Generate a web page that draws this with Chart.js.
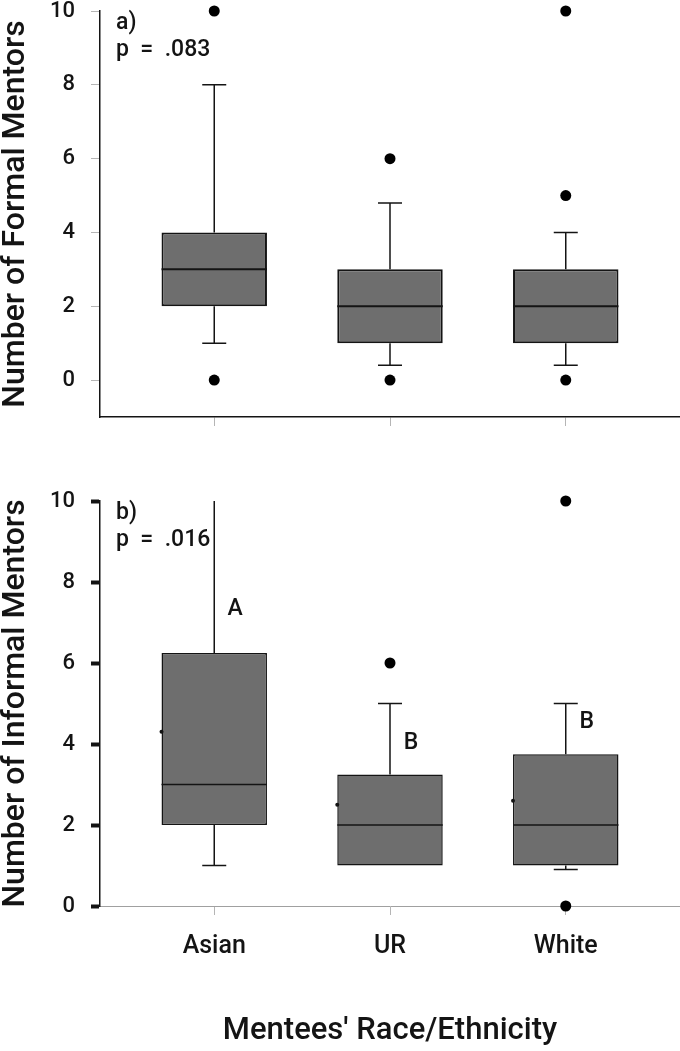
<!DOCTYPE html>
<html>
<head>
<meta charset="utf-8">
<script src="https://cdn.jsdelivr.net/npm/chart.js@4.4.1/dist/chart.umd.min.js"></script>
<style>
  html, body { margin: 0; padding: 0; background: #fff; }
  .panel { position: absolute; left: 0; width: 680px; }
</style>
</head>
<body>
<div class="panel" style="top:0;height:440px"><canvas id="formal" width="680" height="440"></canvas></div>
<div class="panel" style="top:440px;height:611px"><canvas id="informal" width="680" height="611"></canvas></div>
<script>
const groups = ['Asian', 'UR', 'White'];
const yTicks = [0, 2, 4, 6, 8, 10];

// a) formal mentors
const formalQ1 = [2, 1, 1];
const formalMedian = [3, 2, 2];
const formalQ3 = [4, 3, 3];
const formalLow = [1, 0.4, 0.4];
const formalHigh = [8, 4.8, 4];
const formalOutliers = [[0, 10], [0, 6], [0, 5, 10]];

// b) informal mentors
const informalQ1 = [2, 1, 1];
const informalMedian = [3, 2, 2];
const informalQ3 = [6.25, 3.25, 3.75];
const informalLow = [1, 1, 0.9];
const informalHigh = [10, 5, 5];
const informalMean = [4.3, 2.5, 2.6];
const informalOutliers = [[], [6], [0, 10]];
const informalLetters = ['A', 'B', 'B'];
const informalLetterAt = [7.33, 4.03, 4.53];

const FONT = 'Roboto, "DejaVu Sans Condensed", sans-serif';
const INK = '#141414';

const boxExtras = {
  id: 'boxExtras',
  beforeDatasetsDraw(chart, args, o) {
    const ctx = chart.ctx, xs = chart.scales.x, ys = chart.scales.y;
    ctx.save();
    ctx.strokeStyle = INK;
    ctx.lineWidth = 1.5;
    o.q1.forEach((q1, i) => {
      const x = xs.getPixelForValue(i + 1);
      const yq1 = ys.getPixelForValue(q1), yq3 = ys.getPixelForValue(o.q3[i]);
      const ylo = ys.getPixelForValue(o.low[i]), yhi = ys.getPixelForValue(o.high[i]);
      ctx.beginPath();
      ctx.moveTo(x, yq3); ctx.lineTo(x, yhi);
      ctx.moveTo(x, yq1); ctx.lineTo(x, ylo);
      if (o.high[i] < ys.max) { ctx.moveTo(x - 12, yhi); ctx.lineTo(x + 12, yhi); }
      if (o.low[i] < q1) { ctx.moveTo(x - 12, ylo); ctx.lineTo(x + 12, ylo); }
      ctx.stroke();
    });
    ctx.restore();
  },
  afterDatasetsDraw(chart, args, o) {
    const ctx = chart.ctx, ys = chart.scales.y, area = chart.chartArea;
    const bars = chart.getDatasetMeta(0).data;
    ctx.save();
    ctx.strokeStyle = INK;
    ctx.lineWidth = o.medianWidth;
    bars.forEach((b, i) => {
      const y = ys.getPixelForValue(o.median[i]);
      ctx.beginPath();
      ctx.moveTo(b.x - b.width / 2, y); ctx.lineTo(b.x + b.width / 2, y);
      ctx.stroke();
    });
    if (o.mean) {
      ctx.fillStyle = INK;
      bars.forEach((b, i) => {
        ctx.beginPath();
        ctx.arc(b.x - b.width / 2, ys.getPixelForValue(o.mean[i]), 2, 0, Math.PI * 2);
        ctx.fill();
      });
    }
    ctx.fillStyle = INK;
    ctx.font = '500 23px ' + FONT;
    if (o.letters) {
      ctx.textAlign = 'center';
      ctx.textBaseline = 'middle';
      bars.forEach((b, i) => ctx.fillText(o.letters[i], b.x + 21, ys.getPixelForValue(o.letterAt[i])));
    }
    ctx.textAlign = 'left';
    ctx.textBaseline = 'alphabetic';
    ctx.fillText(o.tag, area.left + 16, area.top + 18);
    ctx.fillText(o.p, area.left + 16, area.top + 45);
    ctx.restore();
  }
};

function outlierPoints(list) {
  const pts = [];
  list.forEach((vals, i) => vals.forEach(v => pts.push({ x: i + 1, y: v })));
  return pts;
}

function makeChart(id, cfg) {
  return new Chart(document.getElementById(id), {
    type: 'bar',
    data: {
      datasets: [{
        type: 'bar',
        data: groups.map((g, i) => ({ x: i + 1, y: [cfg.q1[i], cfg.q3[i]] })),
        backgroundColor: '#6e6e6e',
        borderColor: INK,
        borderWidth: cfg.boxBorder,
        borderSkipped: false,
        barPercentage: 0.6,
        categoryPercentage: 1
      }, {
        type: 'scatter',
        data: outlierPoints(cfg.outliers),
        backgroundColor: '#000',
        borderWidth: 0,
        pointRadius: 5.5,
        clip: false
      }]
    },
    options: {
      responsive: false,
      animation: false,
      devicePixelRatio: 1,
      layout: { autoPadding: false, padding: { top: cfg.padTop, left: 0, right: 0, bottom: 0 } },
      plugins: {
        legend: { display: false },
        tooltip: { enabled: false },
        boxExtras: {
          q1: cfg.q1, q3: cfg.q3, low: cfg.low, high: cfg.high, median: cfg.median,
          mean: cfg.mean, letters: cfg.letters, letterAt: cfg.letterAt,
          tag: cfg.tag, p: cfg.p, medianWidth: cfg.medianWidth
        }
      },
      scales: {
        x: {
          type: 'linear',
          min: 0.35, max: 3.65,
          offset: false,
          afterBuildTicks: s => { s.ticks = [1, 2, 3].map(v => ({ value: v })); },
          afterFit: s => { s.height = cfg.xHeight; s.paddingLeft = 0; s.paddingRight = 0; },
          grid: { offset: false, drawOnChartArea: false, tickLength: 9, tickColor: '#b5b5b5', tickWidth: 1 },
          border: { color: cfg.xBorder, width: cfg.xBorderWidth },
          ticks: {
            display: cfg.showX,
            padding: 17,
            color: INK,
            font: { family: FONT, size: 25, weight: 500 },
            callback: v => groups[v - 1]
          },
          title: {
            display: cfg.showX,
            text: "Mentees' Race/Ethnicity",
            color: INK,
            font: { family: FONT, size: 31, weight: 500, lineHeight: 1 },
            padding: { top: 0, bottom: 4 }
          }
        },
        y: {
          min: cfg.yMin, max: 10,
          afterBuildTicks: s => { s.ticks = yTicks.map(v => ({ value: v })); },
          afterFit: s => { s.width = 100; s.paddingTop = 0; s.paddingBottom = 0; },
          grid: { drawOnChartArea: false, tickLength: 9, tickColor: cfg.yTickColor, tickWidth: cfg.yTickWidth },
          border: { color: INK, width: 1.5 },
          ticks: { padding: 16, color: INK, font: { family: FONT, size: 22, weight: 500, lineHeight: 1 } },
          title: {
            display: true,
            text: cfg.yTitle,
            color: INK,
            font: { family: FONT, size: 32, weight: 500, lineHeight: 1 },
            padding: { top: 0, bottom: 0 }
          }
        }
      }
    },
    plugins: [boxExtras]
  });
}

makeChart('formal', {
  q1: formalQ1, q3: formalQ3, low: formalLow, high: formalHigh, median: formalMedian,
  outliers: formalOutliers, tag: 'a)', p: 'p  =  .083', yTitle: 'Number of Formal Mentors',
  yMin: -1, padTop: 11, xHeight: 23, showX: false, xBorder: INK, xBorderWidth: 1.5,
  yTickColor: '#b5b5b5', yTickWidth: 1, boxBorder: 2, medianWidth: 2
});

makeChart('informal', {
  q1: informalQ1, q3: informalQ3, low: informalLow, high: informalHigh, median: informalMedian,
  mean: informalMean, letters: informalLetters, letterAt: informalLetterAt,
  outliers: informalOutliers, tag: 'b)', p: 'p  =  .016', yTitle: 'Number of Informal Mentors',
  yMin: 0, padTop: 61, xHeight: 145, showX: true, xBorder: '#a0a0a0', xBorderWidth: 1,
  yTickColor: INK, yTickWidth: 4, boxBorder: 1.5, medianWidth: 1.5
});
</script>
</body>
</html>
